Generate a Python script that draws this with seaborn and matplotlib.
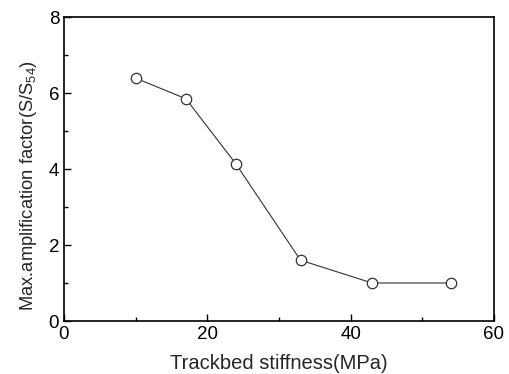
import matplotlib
matplotlib.use("Agg")
import matplotlib.pyplot as plt
import seaborn as sns
import pandas as pd
from matplotlib.ticker import MultipleLocator

stiffness = [10, 17, 24, 33, 43, 54]
amplification = [6.39, 5.85, 4.13, 1.60, 1.00, 1.00]

sns.set_theme(style="ticks")
plt.rcParams['font.family'] = ['Liberation Sans', 'DejaVu Sans']
plt.rcParams['mathtext.default'] = 'regular'

df = pd.DataFrame({"x": stiffness, "y": amplification})

fig = plt.figure(figsize=(5.09, 3.74), dpi=100)
ax = fig.add_axes([64/509, 1 - 321/374, (494-64)/509, (321-17)/374])

sns.lineplot(data=df, x="x", y="y", ax=ax, color="#333333", linewidth=0.8,
             marker="o", markersize=7.5, markerfacecolor="white",
             markeredgecolor="#333333", markeredgewidth=0.9)

ax.set_xlim(0, 60)
ax.set_ylim(0, 8)
ax.xaxis.set_major_locator(MultipleLocator(20))
ax.xaxis.set_minor_locator(MultipleLocator(10))
ax.yaxis.set_major_locator(MultipleLocator(2))
ax.yaxis.set_minor_locator(MultipleLocator(1))
ax.tick_params(which="both", direction="in", top=False, right=False,
               labelsize=13.5, colors="black", width=1)
ax.tick_params(which="major", length=5)
ax.tick_params(which="minor", length=3)
for s in ax.spines.values():
    s.set_linewidth(1.2)
    s.set_color("black")

ax.set_xlabel("Trackbed stiffness(MPa)", fontsize=14.5, labelpad=8)
ax.set_ylabel("Max.amplification factor(S/S$_{54}$)", fontsize=13.2)
ax.yaxis.set_label_coords(-0.058, 0.445)

fig.savefig("out.png", dpi=100)
